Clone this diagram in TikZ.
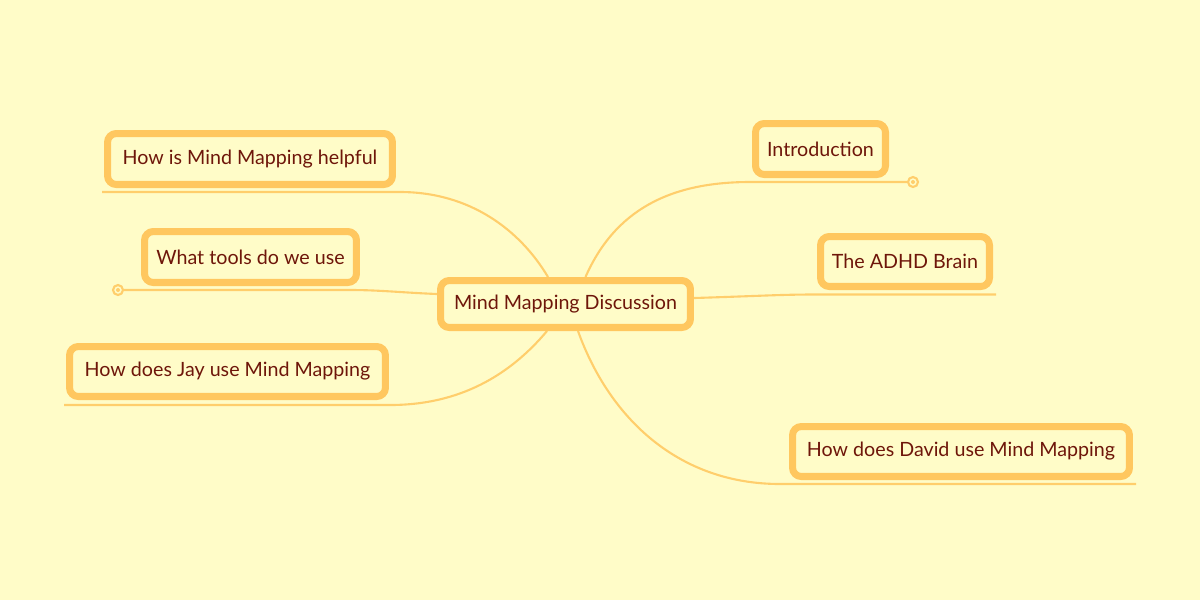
\documentclass[tikz,border=0pt]{standalone}
\usepackage{fontspec}
\setmainfont{Lato}
\usetikzlibrary{backgrounds}
\definecolor{bgc}{RGB}{255,252,200}
\definecolor{bord}{RGB}{255,199,95}
\definecolor{linec}{RGB}{255,206,108}
\definecolor{txt}{RGB}{110,22,10}
\tikzset{
  topic/.style={draw=bord, line width=4pt, rounded corners=5pt, fill=bgc, text=txt,
    font=\fontsize{11.2}{13}\selectfont, inner sep=0pt, align=center},
  conn/.style={draw=linec, line width=1.2pt},
  endring/.style={draw=linec, line width=1.2pt, fill=bgc},
}
\begin{document}
\begin{tikzpicture}[x=0.02cm,y=-0.02cm]
\useasboundingbox (0,0) rectangle (1200,600);
\node[topic, minimum width=5cm, minimum height=0.94cm] (central) at (565.5,304) {Mind Mapping Discussion};
\node[topic, minimum width=2.6cm, minimum height=1.02cm] (intro) at (820.5,149) {Introduction};
\node[topic, minimum width=3.38cm, minimum height=1.0cm] (adhd) at (905,261.5) {The ADHD Brain};
\node[topic, minimum width=6.74cm, minimum height=1.0cm] (david) at (961,451.5) {How does David use Mind Mapping};
\node[topic, minimum width=5.7cm, minimum height=1.02cm] (helpful) at (250,159) {How is Mind Mapping helpful};
\node[topic, minimum width=4.24cm, minimum height=1.02cm] (tools) at (250.5,257) {What tools do we use};
\node[topic, minimum width=6.32cm, minimum height=1.0cm] (jay) at (227.5,371.5) {How does Jay use Mind Mapping};
\coordinate (introA) at (750,182);
\coordinate (introEnd) at (913,182);
\coordinate (adhdA) at (815,294.5);
\coordinate (adhdEnd) at (996,294.5);
\coordinate (davidA) at (780,484);
\coordinate (davidEnd) at (1136,484);
\coordinate (helpA) at (400,192);
\coordinate (helpEnd) at (102,192);
\coordinate (toolsA) at (350,290);
\coordinate (toolsEnd) at (118,290);
\coordinate (jayA) at (390,405);
\coordinate (jayEnd) at (64,405);
\begin{scope}[on background layer]
\fill[bgc] (0,0) rectangle (1200,600);
\draw[conn] ([xshift=0.4cm]central.north) .. controls (615,210) and (670,182) .. (introA) -- (introEnd);
\draw[conn] ([yshift=0.12cm]central.east) .. controls (760,296) and (780,294.5) .. (adhdA) -- (adhdEnd);
\draw[conn] ([xshift=0.25cm]central.south) .. controls (610,420) and (680,484) .. (davidA) -- (davidEnd);
\draw[conn] ([xshift=-0.35cm]central.north) .. controls (520,230) and (470,192) .. (helpA) -- (helpEnd);
\draw[conn] ([yshift=0.2cm]central.west) .. controls (400,292.5) and (380,290) .. (toolsA) -- (toolsEnd);
\draw[conn] ([xshift=-0.37cm]central.south) .. controls (510,375) and (460,405) .. (jayA) -- (jayEnd);
\end{scope}
\draw[endring] (introEnd) circle (5);
\draw[endring] (toolsEnd) circle (5);
\fill[linec] (introEnd) circle (2);
\fill[linec] (toolsEnd) circle (2);
\end{tikzpicture}
\end{document}
